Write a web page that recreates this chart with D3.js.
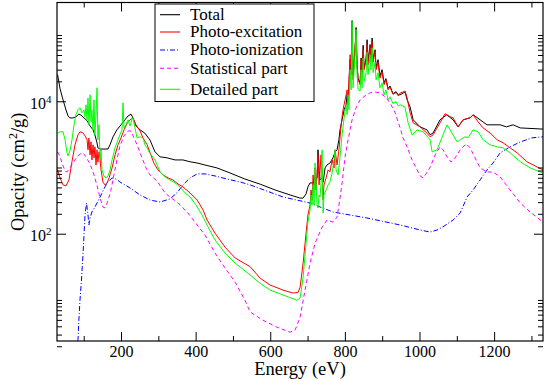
<!DOCTYPE html>
<html>
<head>
<meta charset="utf-8">
<script src="https://cdn.jsdelivr.net/npm/d3@7"></script>
<style>
html, body { margin: 0; padding: 0; background: #fff; }
svg { display: block; }
</style>
</head>
<body>
<div id="chart"></div>
<script>
// [energy (eV), opacity (cm^2/g)]
const total = [[30,25200],[36.5,15500],[44.6,10500],[52.5,7400],[58,6000],[63,5600],[71,5600],[79,5800],[87,6400],[92.8,6200],[100.8,5600],[109,5100],[117,4250],[125,3700],[130,3100],[135.7,2350],[138,1980],[144,1900],[154.4,1900],[165,1900],[170.5,2200],[178.5,2900],[189,3700],[200,4400],[210.7,5250],[218.8,6000],[226.8,6400],[232,5600],[240,4250],[251,3700],[264,3300],[277.7,2600],[291,1720],[304.6,1450],[323,1400],[344.8,1300],[366,1300],[385,1220],[403.8,1170],[425,1090],[457,986],[492,828],[532,670],[573,560],[613,458],[653,385],[680,345],[688,345],[696,400],[701,509],[706.7,585],[714.8,585],[720,649],[725.5,700],[728,1850],[731,900],[733.5,649],[739,696],[741.6,600],[747,986],[752,1090],[760,1170],[768,1400],[774,1720],[779,1850],[784,2620],[787,3700],[792.5,5250],[798,7430],[803,8850],[806,12500],[808.6,9500],[811,18000],[814,42500],[816.7,30000],[819.3,165000],[822,25000],[824.7,35600],[827.4,60000],[830,130000],[832.7,35600],[835.4,22000],[840.8,19000],[843.5,45000],[846,28000],[849,70000],[851.5,32000],[857,45000],[859.5,85000],[862,40000],[867.6,72000],[870,45000],[873,90000],[875.6,42500],[881,60000],[883.6,32000],[889,42500],[894,24000],[899.7,30000],[905,19000],[910,22000],[915.8,15500],[921,17000],[929,13000],[937,14000],[943,12500],[948,12500],[956,13300],[961.4,13800],[966.8,10500],[974.8,8200],[983,5250],[1001.6,4110],[1020,3700],[1028.5,3110],[1036.5,3330],[1055,5250],[1073,6250],[1090,5250],[1103.5,4110],[1117,5250],[1135.7,5630],[1143.7,6250],[1162.5,5250],[1181,4410],[1216,4410],[1233,4110],[1251,4410],[1270,3960],[1331,3800]];

const photoExcitation = [[30,920],[36.5,696],[44.6,546],[52.5,528],[60.6,649],[68.6,1230],[76.7,2200],[84.6,3110],[90,3460],[98,3330],[103.5,3000],[109,2620],[111.5,1850],[114,2780],[117,1550],[119.6,2450],[122,1300],[125,2200],[127.6,1400],[130,2050],[133,1090],[135.7,1850],[138,1200],[141,1720],[144,1300],[146.4,920],[151.7,600],[157,546],[162.5,585],[168,696],[176,986],[184,1550],[192,2200],[200,2800],[208,3700],[216,4570],[224,5250],[232,5630],[240,4410],[251,3560],[259,2800],[270,2200],[278,1660],[288,1170],[299,920],[312.6,773],[326,696],[339,649],[352.8,563],[366,509],[385,413],[404,323],[420,228],[430.6,161],[452,102],[479,62.5],[506,43],[546,31.8],[573,21.3],[599.5,16.8],[634,14.1],[661,12.7],[674.5,13],[680,15.6],[688,36],[696,102],[701,192],[706.7,272],[709.4,458],[712,323],[714.8,773],[717.5,458],[720,986],[722.8,458],[725.5,773],[728,1550],[730.8,546],[733.5,920],[736,1550],[739,773],[741.6,323],[744,546],[749.6,696],[755,920],[760,860],[765.7,1300],[771,986],[773.7,1850],[779,1090],[784,1850],[790,4410],[795,7430],[800.5,10500],[806,14900],[808.6,8850],[811,21100],[814,50500],[816.7,25200],[819.3,121000],[822,21100],[824.7,42500],[827.4,72000],[830,101000],[832.7,35600],[835.4,21100],[840.8,17800],[843.5,42500],[846,25200],[849,60000],[851.5,29900],[857,42500],[859.5,72000],[862,35600],[867.6,67000],[870,42500],[873,79000],[875.6,39000],[881,56000],[883.6,29900],[889,39000],[894,22300],[899.7,27800],[905,17800],[910,21100],[915.8,14900],[921,16400],[929,12700],[937,13600],[943,12100],[948,13300],[956,13800],[961.4,14300],[966.8,11200],[974.8,6700],[983,4730],[1001.6,4110],[1020,3300],[1028.5,2910],[1036.5,3110],[1055,4730],[1068.6,6500],[1082,5850],[1090,5630],[1103.5,4110],[1117,5250],[1135.7,5630],[1143.7,6250],[1157,4900],[1170.5,3960],[1189,3330],[1208,2620],[1224,2360],[1243,1980],[1262,1660],[1288,1220],[1315,1020],[1331,920]];

const photoIonization = [[83,1.7],[84.6,2.47],[87,4.95],[90,9.93],[94,20],[98,47.6],[100.8,95.5],[103.5,192],[107.5,291],[111.5,192],[114,135.5],[117,173],[122,213],[130,253],[144,359],[157,509],[165,605],[176,696],[186.6,670],[197,605],[224,492],[251,385],[277.7,323],[304.6,301],[331,335],[350,413],[366,546],[385,696],[404,800],[425,800],[452,745],[484,670],[519,605],[546,546],[634,359],[706.7,291],[768,213],[859,173],[948,135.5],[1001.6,113.8],[1028.5,106],[1047,113.8],[1063,127],[1074,140],[1090,161],[1109,206],[1127.6,359],[1143.7,458],[1162.5,649],[1181,920],[1197,1170],[1216,1660],[1243,2050],[1270,2430],[1301,2800],[1331,2910]];

const statisticalPart = [[30,1720],[36.5,1450],[42,1170],[50,885],[55,855],[63,986],[71,1170],[82,1450],[90,1600],[98,1660],[106,1450],[117,1130],[127.6,773],[135.7,530],[144,345],[151.7,253],[157,245],[165,313],[173,458],[181,773],[189,1300],[197,2110],[208,3000],[218.8,3560],[226.8,3560],[235,2800],[243,2200],[254,1500],[267,986],[277.7,773],[296.5,625],[318,413],[331,359],[350,301],[377,213],[398,150],[425,95.5],[452,51],[479,30.3],[506,18.5],[532,9.93],[546,6.6],[580,4.95],[617,3.9],[653,3.26],[666.5,3.5],[680,5.5],[693.3,14.1],[706.7,36],[720,72],[739,126],[752,161],[768,150],[779,178],[787,346],[792.5,585],[800.5,1450],[808.6,2620],[819.3,5250],[830,7980],[840.8,10500],[854,12100],[867.6,13400],[881,13800],[894,13400],[907.7,11700],[921,9500],[934.6,6700],[948,3960],[956,2800],[966.8,2050],[980,1300],[993.6,920],[1001.6,745],[1009.7,696],[1017.5,800],[1028.5,1010],[1042,1550],[1055,2050],[1063,1850],[1074,1450],[1084.5,1210],[1095.5,1400],[1109,1850],[1125,2280],[1135.7,1980],[1146,1500],[1162.5,986],[1181,855],[1197,855],[1216,720],[1243,458],[1270,291],[1296.6,213],[1331,150]];

const detailedPart = [[30,3300],[36.5,3460],[44.6,3460],[50,2620],[55,1700],[58,1500],[63,1780],[68.6,2620],[74,4410],[79,6250],[84.6,7430],[90,7980],[95.4,6700],[100.8,7430],[103.5,5800],[106,8850],[109,5250],[111.5,11200],[114,4410],[117,12500],[119.6,4900],[122,7430],[125,3700],[127.6,10500],[130,3110],[133,6250],[135.7,16000],[138,2620],[141,4410],[144,1300],[146.4,1850],[149,920],[154.4,740],[159.8,696],[165,740],[170.5,920],[176,1300],[184,1980],[192,2620],[197,3110],[202.7,3700],[205.4,9500],[208,3960],[213,4410],[218.8,5250],[224,4250],[229.5,5250],[232,5630],[237.5,3960],[243,2800],[251,2910],[259,2800],[264,2200],[270,1980],[275,1720],[291,1300],[304.6,860],[318,720],[331,649],[345,585],[358,509],[371.6,413],[385,359],[401,272],[417,192],[430.6,135.5],[452,80.3],[479,51],[506,36],[546,23.8],[573,17.8],[599.5,14.1],[634,11.9],[672,9.9],[680,10.7],[688,22],[696,72],[701,150],[706.7,228],[709.4,385],[712,272],[714.8,546],[717.5,272],[720,1170],[722.8,585],[725.5,272],[728,244],[730.8,385],[733.5,359],[736,585],[739,1850],[741.6,206],[744,385],[749.6,458],[755,546],[760,605],[765.7,828],[771,1300],[773.7,1850],[776.4,920],[781.8,773],[787,1450],[792.5,3110],[798,5630],[803,8850],[806,6250],[808.6,12500],[811,7430],[814,29900],[816.7,14900],[819.3,160000],[822,16000],[824.7,29900],[827.4,50500],[830,121000],[832.7,25200],[835.4,14900],[840.8,14300],[843.5,29900],[846,16000],[849,45000],[851.5,20000],[857,27000],[859.5,55000],[862,25200],[867.6,50500],[870,29900],[873,64000],[875.6,27000],[881,39000],[883.6,21100],[889,27000],[894,16000],[899.7,19000],[905,12500],[910,14900],[915.8,10500],[921,11700],[929,9200],[937,9900],[943,8500],[948,8850],[961,8200],[969.5,4730],[980,3110],[993.6,3700],[1009.7,3460],[1028.5,2620],[1033.8,1720],[1047,1850],[1063,3110],[1074,4410],[1082,3700],[1101,2430],[1109,2620],[1122,2910],[1130,2800],[1143.7,3700],[1157,3460],[1170.5,2620],[1189,2200],[1208,2050],[1224,1980],[1243,1660],[1270,1220],[1296.6,986],[1331,828]];

const seriesNames = ["Total", "Photo-excitation", "Photo-ionization", "Statistical part", "Detailed part"];
const xMajorTicks = [200, 400, 600, 800, 1000, 1200];
const xMinorTicks = [100, 300, 500, 700, 900, 1100, 1300];
const yMajorTicks = [1e2, 1e4];
const yMinorTicks = [2, 3, 4, 5, 6, 7, 8, 9, 10, 200, 300, 400, 500, 600, 700, 800, 900, 1000, 2e4, 3e4, 4e4, 5e4, 6e4, 7e4, 8e4, 9e4, 1e5];

(() => {
    const W = 545, H = 381;
    const m = { left: 57, right: 543, top: 2.5, bottom: 341 };
    const FONT = "'Liberation Serif', 'DejaVu Serif', serif";

    const svg = d3.select("#chart").append("svg").attr("width", W).attr("height", H)
        .attr("font-family", FONT);

    const x = d3.scaleLinear().domain([28.4, 1331]).range([m.left, m.right]);
    const y = d3.scaleLog().domain([2.4, 3.1e5]).range([m.bottom, m.top]);

    const styles = [
        { data: total, color: "#000000", dash: null },
        { data: photoExcitation, color: "#ff0000", dash: null },
        { data: photoIonization, color: "#0000ff", dash: "5,2,1,2" },
        { data: statisticalPart, color: "#ff00ff", dash: "4,3" },
        { data: detailedPart, color: "#00ff00", dash: null }
    ];

    svg.append("clipPath").attr("id", "clip")
        .append("rect").attr("x", m.left).attr("y", m.top)
        .attr("width", m.right - m.left).attr("height", m.bottom - m.top);

    const line = d3.line().x(d => x(d[0])).y(d => y(d[1]));

    svg.append("g").attr("clip-path", "url(#clip)")
        .selectAll("path").data(styles).join("path")
        .attr("d", d => line(d.data))
        .attr("fill", "none")
        .attr("stroke", d => d.color)
        .attr("stroke-width", 1)
        .attr("stroke-dasharray", d => d.dash);

    // frame + inward ticks on all four sides
    const axes = svg.append("g");
    const tidy = g => {
        g.select(".domain").remove();
        g.selectAll(".tick line").attr("stroke", "#000").attr("stroke-width", 1);
        g.attr("font-family", FONT).attr("font-size", 16);
    };
    axes.append("g").attr("transform", `translate(0,${m.bottom})`)
        .call(d3.axisBottom(x).tickValues(xMajorTicks).tickSize(-9).tickPadding(5).tickFormat(d3.format("d")))
        .call(tidy);
    axes.append("g").attr("transform", `translate(0,${m.bottom})`)
        .call(d3.axisBottom(x).tickValues(xMinorTicks).tickSize(-5).tickFormat("")).call(tidy);
    axes.append("g").attr("transform", `translate(0,${m.top})`)
        .call(d3.axisTop(x).tickValues(xMajorTicks).tickSize(-9).tickFormat("")).call(tidy);
    axes.append("g").attr("transform", `translate(0,${m.top})`)
        .call(d3.axisTop(x).tickValues(xMinorTicks).tickSize(-5).tickFormat("")).call(tidy);

    const left = axes.append("g").attr("transform", `translate(${m.left},0)`)
        .call(d3.axisLeft(y).tickValues(yMajorTicks).tickSize(-9).tickPadding(5.5))
        .call(tidy);
    left.selectAll(".tick text").attr("dy", "0.45em").text("10")
        .append("tspan").attr("dy", "-6").attr("font-size", 11)
        .text(d => Math.round(Math.log10(d)));
    axes.append("g").attr("transform", `translate(${m.left},0)`)
        .call(d3.axisLeft(y).tickValues(yMinorTicks).tickSize(-5).tickFormat("")).call(tidy);
    axes.append("g").attr("transform", `translate(${m.right},0)`)
        .call(d3.axisRight(y).tickValues(yMajorTicks).tickSize(-9).tickFormat("")).call(tidy);
    axes.append("g").attr("transform", `translate(${m.right},0)`)
        .call(d3.axisRight(y).tickValues(yMinorTicks).tickSize(-5).tickFormat("")).call(tidy);

    svg.append("rect").attr("x", m.left).attr("y", m.top)
        .attr("width", m.right - m.left).attr("height", m.bottom - m.top)
        .attr("fill", "none").attr("stroke", "#000").attr("stroke-width", 1.2);

    // axis titles
    svg.append("text").attr("x", (m.left + m.right) / 2).attr("y", 375)
        .attr("text-anchor", "middle").attr("font-size", 18.5).text("Energy (eV)");
    const yt = svg.append("text").attr("transform", `translate(23.5,${(m.top + m.bottom) / 2}) rotate(-90)`)
        .attr("text-anchor", "middle").attr("font-size", 18.5);
    yt.append("tspan").text("Opacity (cm");
    yt.append("tspan").attr("dy", -7).attr("font-size", 12).text("2");
    yt.append("tspan").attr("dy", 7).text("/g)");

    // legend
    const lg = svg.append("g");
    lg.append("rect").attr("x", 155).attr("y", 4).attr("width", 159).attr("height", 97.5)
        .attr("fill", "#fff").attr("stroke", "#000").attr("stroke-width", 1);
    const rowY = [14.7, 32, 50, 68.3, 89.3];
    lg.selectAll("g.item").data(styles).join("g").attr("class", "item")
        .attr("transform", (d, i) => `translate(0,${rowY[i]})`)
        .call(g => {
            g.append("line").attr("x1", 160).attr("x2", 180)
                .attr("stroke", d => d.color).attr("stroke-width", 1.1)
                .attr("stroke-dasharray", d => d.dash);
            g.append("text").attr("x", 190).attr("y", 5.2).attr("font-size", 17)
                .text((d, i) => seriesNames[i]);
        });
})();
</script>
</body>
</html>
